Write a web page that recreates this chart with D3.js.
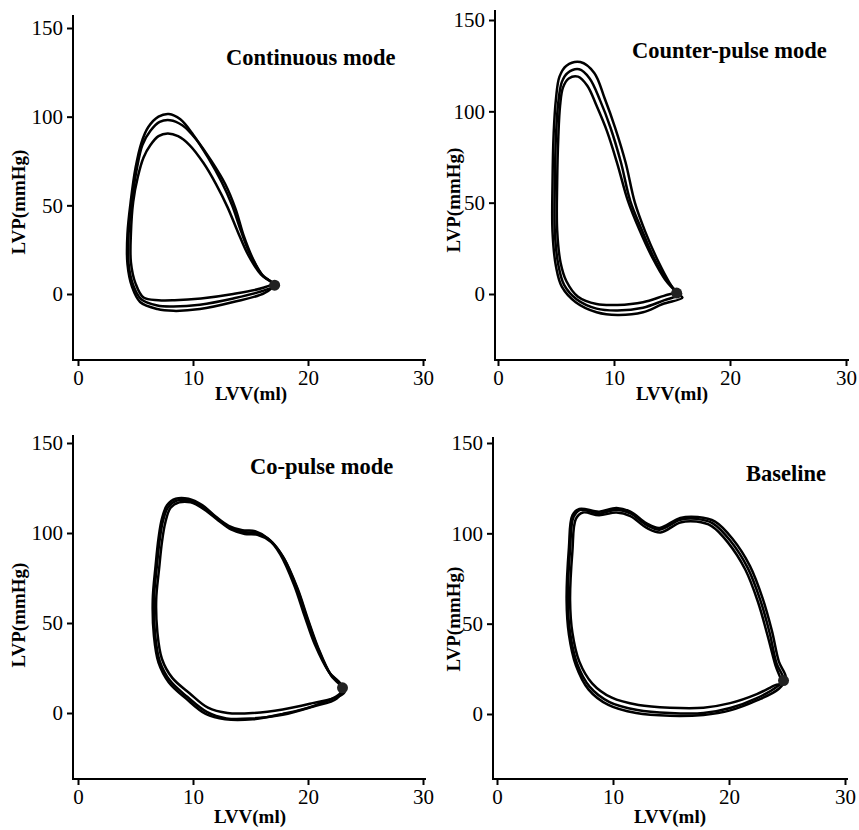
<!DOCTYPE html>
<html>
<head>
<meta charset="utf-8">
<script src="https://cdn.jsdelivr.net/npm/d3@7"></script>
<style>
  body { margin: 0; background: #fff; }
  svg { display: block; }
  text { font-family: "Liberation Serif", "Times New Roman", serif; fill: #000; }
</style>
</head>
<body>
<svg id="chart" width="859" height="830"></svg>
<script>
// ---- data (LVV in ml, LVP in mmHg) ----
var xTicks = [0, 10, 20, 30];
var yTicks = [0, 50, 100, 150];
var titles = ["Continuous mode", "Counter-pulse mode", "Co-pulse mode", "Baseline"];

var continuousA = [[17.0,5],[16.0,11],[15.0,22],[14.2,35],[13.4,50],[12.5,63],[11.3,77],[10.0,90],[8.9,98.5],[7.9,101.5],[7.0,100],[6.1,94],[5.5,85],[5.0,71],[4.6,53],[4.3,34],[4.3,17],[4.7,4],[5.4,-4.5],[6.9,-8.5],[8.3,-9.5],[10.6,-8.5],[13.5,-4.5],[16.2,0.5]];
var continuousB = [[17.1,5],[16.1,10],[15.2,20],[14.4,33],[13.7,48],[12.8,62],[11.6,75],[10.3,87],[9.1,95],[8.0,98],[7.1,97],[6.3,92],[5.6,84],[5.1,70],[4.7,53],[4.4,34],[4.4,17],[4.8,5],[5.5,-3],[6.9,-6.5],[8.3,-7],[10.6,-6],[13.5,-2.5],[16.2,2]];
var continuousC = [[16.9,6],[15.9,11],[14.8,22],[13.9,35],[13.0,49],[12.0,62],[10.9,74],[9.7,84],[8.7,89],[7.8,90.5],[7.0,89],[6.3,84],[5.7,77],[5.2,66],[4.8,52],[4.6,34],[4.6,18],[5.0,6],[5.7,-2],[7.0,-3.5],[8.4,-3.5],[10.7,-2.5],[13.5,0],[16.1,3.5]];

var counterA = [[15.4,0.5],[14.8,6],[13.8,18],[12.7,34],[11.8,50],[11.0,72],[10.1,91],[9.2,107],[8.3,121],[7.1,127],[5.9,125],[5.3,119],[5.0,107],[4.8,88],[4.7,61],[4.7,34],[5.0,15],[5.5,4],[6.7,-4.5],[8.5,-10],[10.3,-11.5],[12.5,-10],[14.2,-5.5],[15.9,-2]];
var counterB = [[15.5,1],[14.6,7],[13.5,19],[12.4,35],[11.4,51],[10.6,72],[9.7,91],[8.8,106],[7.9,118],[7.0,123],[6.0,121],[5.5,116],[5.2,105],[5.0,87],[4.9,61],[4.9,34],[5.2,16],[5.7,5],[6.8,-3],[8.5,-8],[10.3,-9],[12.5,-7.5],[14.3,-3.5],[15.8,0]];
var counterC = [[15.3,2],[14.4,8],[13.3,20],[12.2,35],[11.2,51],[10.3,71],[9.4,89],[8.5,103],[7.7,114],[6.9,119],[6.1,118],[5.6,113],[5.35,103],[5.2,86],[5.1,61],[5.1,35],[5.4,17],[5.9,7],[6.9,-1.5],[8.5,-5.5],[10.3,-6],[12.5,-4.5],[14.3,-1],[15.6,1.5]];

var copulseA = [[23.0,14.5],[21.9,22],[20.8,37],[19.9,53],[19.0,70],[17.8,87],[16.7,96],[15.5,100],[14.4,100.5],[13.2,103],[12.1,108],[10.9,114.5],[9.7,118],[8.6,118],[7.85,114.5],[7.4,107],[7.1,96],[6.85,81],[6.6,63],[6.7,44],[7.1,29],[8.0,18],[9.5,9],[11.2,0.6],[12.9,-3],[15.2,-3],[17.8,-1],[20.4,3.5],[22.5,8]];
var copulseB = [[23.2,12],[22.0,21],[20.9,36],[20.0,52],[19.1,69],[17.9,86],[16.8,95],[15.6,99],[14.5,99.5],[13.3,102],[12.2,107],[11.0,113],[9.8,117],[8.8,117],[8.05,114],[7.6,106],[7.3,95],[7.05,80],[6.8,63],[6.9,45],[7.3,30],[8.2,19.5],[9.7,11],[11.3,3],[13.0,0],[15.2,0],[17.8,2],[20.4,5.5],[22.6,9]];
var copulseC = [[22.8,16],[21.8,23],[20.6,38],[19.7,54],[18.8,71],[17.6,88],[16.5,97],[15.4,101],[14.3,101.5],[13.1,104],[12.0,109],[10.8,115.5],[9.6,119],[8.5,119],[7.75,115.5],[7.3,108],[7.0,97],[6.75,82],[6.5,63],[6.6,43],[7.0,28],[7.9,17],[9.4,8],[11.1,-0.5],[12.8,-3.5],[15.2,-3.5],[17.8,-0.5],[20.5,4],[22.8,11]];

var baselineA = [[24.7,18.8],[24.1,28],[23.5,45],[22.7,63],[21.6,81],[20.1,96],[18.6,105.5],[17.2,108],[15.8,107.5],[14.0,102],[12.9,104.6],[11.5,111],[10.3,113],[8.8,111],[7.2,113],[6.6,109],[6.3,91],[6.1,63],[6.3,45],[6.9,28],[8.0,15],[9.7,6.6],[12.1,2.2],[14.9,0.5],[17.8,0.5],[20.1,3.3],[22.4,8.8],[24.1,15]];
var baselineB = [[24.5,17],[24.0,27],[23.3,44],[22.5,62],[21.4,80],[19.9,95],[18.5,104],[17.2,106.5],[15.8,106],[14.1,100.5],[12.9,103],[11.5,109.5],[10.3,111.5],[8.8,110],[7.4,111.5],[6.8,108],[6.5,90],[6.3,63],[6.5,45],[7.1,29],[8.2,17],[9.9,9],[12.2,5],[14.9,3.5],[17.8,3.5],[20.1,6],[22.4,11],[24.0,16]];
var baselineC = [[24.9,20],[24.3,29],[23.7,46],[22.9,64],[21.8,82],[20.3,97],[18.8,106.5],[17.3,109],[15.8,108.5],[14.0,103],[12.9,105.5],[11.5,112],[10.3,114],[8.8,112],[7.1,113.5],[6.5,110],[6.2,92],[6.0,63],[6.2,44],[6.8,27],[7.9,13.5],[9.6,5],[12.0,0.5],[14.9,-1],[17.8,-0.5],[20.1,2],[22.4,7.5],[24.3,14]];

// end-diastolic blobs where the loops meet
var edPoints = [[17.1,5], [15.4,0.5], [23.0,14], [24.7,18.5]];

// ---- layout (pixel frames for each panel) ----
var frames = [
  {x0: 78,  x30: 423, y0: 294, y150: 28,  axisX: 73,  axisY: 360, top: 15,  labX: 18,  labY: 202, lvvX: 251, lvvY: 400},
  {x0: 498, x30: 846, y0: 294, y150: 20,  axisX: 495, axisY: 360, top: 10,  labX: 453, labY: 200, lvvX: 672, lvvY: 400},
  {x0: 78,  x30: 423, y0: 713, y150: 443, axisX: 73,  axisY: 779, top: 435, labX: 18,  labY: 615, lvvX: 250, lvvY: 823},
  {x0: 497, x30: 845, y0: 714, y150: 443, axisX: 493, axisY: 779, top: 437, labX: 453, labY: 619, lvvX: 670, lvvY: 823}
];
var titlePos = [[226, 65], [632, 58], [250, 474], [746, 481]];

var panels = [
  {title: titles[0], loops: [continuousA, continuousB, continuousC], ed: edPoints[0]},
  {title: titles[1], loops: [counterA, counterB, counterC], ed: edPoints[1]},
  {title: titles[2], loops: [copulseA, copulseB, copulseC], ed: edPoints[2]},
  {title: titles[3], loops: [baselineA, baselineB, baselineC], ed: edPoints[3]}
];

var svg = d3.select('#chart');

panels.forEach(function(p, i) {
  var f = frames[i];
  var x = d3.scaleLinear().domain([0, 30]).range([f.x0, f.x30]);
  var y = d3.scaleLinear().domain([0, 150]).range([f.y0, f.y150]);
  var g = svg.append('g');

  // axis lines
  g.append('line')
    .attr('x1', f.axisX).attr('x2', f.axisX)
    .attr('y1', f.top).attr('y2', f.axisY)
    .attr('stroke', '#000').attr('stroke-width', 2);
  g.append('line')
    .attr('x1', f.axisX - 1).attr('x2', x(30) + 3)
    .attr('y1', f.axisY).attr('y2', f.axisY)
    .attr('stroke', '#000').attr('stroke-width', 2);

  var yAxis = g.append('g')
    .attr('transform', 'translate(' + f.axisX + ',0)')
    .call(d3.axisLeft(y).tickValues(yTicks).tickSize(6).tickPadding(4));
  var xAxis = g.append('g')
    .attr('transform', 'translate(0,' + f.axisY + ')')
    .call(d3.axisBottom(x).tickValues(xTicks).tickSize(6).tickPadding(4));

  [yAxis, xAxis].forEach(function(a) {
    a.select('.domain').remove();
    a.selectAll('line').attr('stroke', '#000').attr('stroke-width', 2);
    a.selectAll('text')
      .style('font-family', '"Liberation Serif", serif')
      .style('font-size', '21px')
      .attr('fill', '#000');
  });

  // loops
  var line = d3.line()
    .x(function(d) { return x(d[0]); })
    .y(function(d) { return y(d[1]); })
    .curve(d3.curveCatmullRomClosed.alpha(0.5));

  g.selectAll('path.loop')
    .data(p.loops)
    .enter().append('path')
    .attr('class', 'loop')
    .attr('d', line)
    .attr('fill', 'none')
    .attr('stroke', '#000')
    .attr('stroke-width', 2.5);

  g.append('circle')
    .attr('cx', x(p.ed[0]))
    .attr('cy', y(p.ed[1]))
    .attr('r', 5.5)
    .attr('fill', '#222');

  // labels
  g.append('text')
    .attr('x', titlePos[i][0]).attr('y', titlePos[i][1])
    .style('font-size', '22.5px').style('font-weight', 'bold')
    .text(p.title);

  g.append('text')
    .attr('transform', 'translate(' + f.labX + ',' + f.labY + ') rotate(-90)')
    .attr('text-anchor', 'middle')
    .attr('dy', '0.35em')
    .style('font-size', '19px').style('font-weight', 'bold')
    .text('LVP(mmHg)');

  g.append('text')
    .attr('x', f.lvvX).attr('y', f.lvvY)
    .attr('text-anchor', 'middle')
    .style('font-size', '19px').style('font-weight', 'bold')
    .text('LVV(ml)');
});
</script>
</body>
</html>
